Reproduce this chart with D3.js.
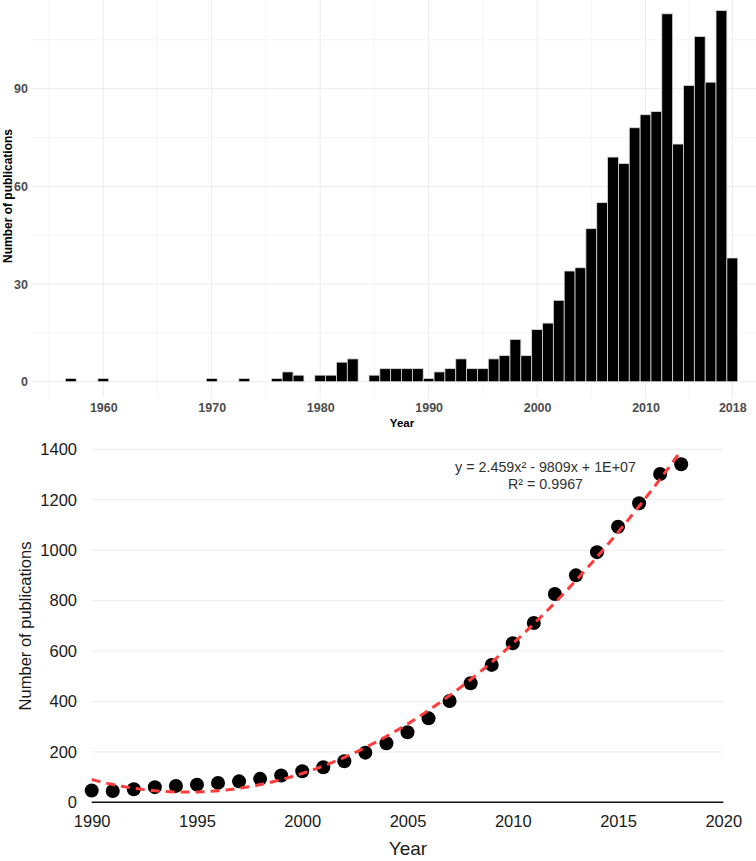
<!DOCTYPE html>
<html>
<head>
<meta charset="utf-8">
<script src="https://cdn.jsdelivr.net/npm/d3@7"></script>
<style>
  html, body { margin: 0; padding: 0; background: #fff; }
  svg { display: block; font-family: "Liberation Sans", Arial, sans-serif; }
</style>
</head>
<body>
<svg id="chart" width="756" height="861"></svg>
<script>
// ---------- Top chart data (publications per year) ----------
const topYears  = [1957,1960,1970,1973,1976,1977,1978,1980,1981,1982,1983,1985,1986,1987,1988,1989,1990,1991,1992,1993,1994,1995,1996,1997,1998,1999,2000,2001,2002,2003,2004,2005,2006,2007,2008,2009,2010,2011,2012,2013,2014,2015,2016,2017,2018];
const topCounts = [1,1,1,1,1,3,2,2,2,6,7,2,4,4,4,4,1,3,4,7,4,4,7,8,13,8,16,18,25,34,35,47,55,69,67,78,82,83,113,73,91,106,92,114,38];
const topXTicks = [1960,1970,1980,1990,2000,2010,2018];
const topXMinor = [1955,1965,1975,1985,1995,2005,2014];
const topYTicks = [0,30,60,90];
const topYMinor = [15,45,75,105];

// ---------- Bottom chart data (cumulative publications) ----------
const botYears  = [1990,1991,1992,1993,1994,1995,1996,1997,1998,1999,2000,2001,2002,2003,2004,2005,2006,2007,2008,2009,2010,2011,2012,2013,2014,2015,2016,2017,2018];
const botValues = [47,45,52,60,65,70,77,83,93,106,123,139,163,197,234,278,333,402,472,545,631,711,826,900,992,1093,1186,1302,1341];
const botXTicks = [1990,1995,2000,2005,2010,2015,2020];
const botYTicks = [0,200,400,600,800,1000,1200,1400];
const eqLines = ["y = 2.459x\u00B2 - 9809x + 1E+07", "R\u00B2 = 0.9967"];

const svg = d3.select("#chart");

// ================= TOP CHART =================
const xT = d3.scaleLinear().domain([1960, 2018]).range([103.3, 732.3]);
const yT = d3.scaleLinear().domain([0, 90]).range([381.7, 88.7]);
const tLeft = 32, tRight = 756, tTop = 0, tBottom = 398;

const gT = svg.append("g");
// minor grid
gT.selectAll(".hminor").data(topYMinor).join("line")
  .attr("x1", tLeft).attr("x2", tRight)
  .attr("y1", d => yT(d)).attr("y2", d => yT(d))
  .attr("stroke", "#f3f3f3").attr("stroke-width", 0.8);
gT.selectAll(".vminor").data(topXMinor).join("line")
  .attr("x1", d => xT(d)).attr("x2", d => xT(d))
  .attr("y1", tTop).attr("y2", tBottom)
  .attr("stroke", "#f3f3f3").attr("stroke-width", 0.8);
// major grid
gT.selectAll(".hmajor").data(topYTicks).join("line")
  .attr("x1", tLeft).attr("x2", tRight)
  .attr("y1", d => yT(d)).attr("y2", d => yT(d))
  .attr("stroke", "#ececec").attr("stroke-width", 1);
gT.selectAll(".vmajor").data(topXTicks).join("line")
  .attr("x1", d => xT(d)).attr("x2", d => xT(d))
  .attr("y1", tTop).attr("y2", tBottom)
  .attr("stroke", "#ececec").attr("stroke-width", 1);

// bars
gT.selectAll("rect.bar").data(topYears.map((y, i) => ({year: y, n: topCounts[i]})))
  .join("rect")
  .attr("class", "bar")
  .attr("x", d => xT(d.year - 0.5))
  .attr("width", d => xT(d.year + 0.5) - xT(d.year - 0.5))
  .attr("y", d => yT(d.n))
  .attr("height", d => yT(0) - yT(d.n))
  .attr("fill", "#000")
  .attr("stroke", "#d8d8d8")
  .attr("stroke-width", 0.8);

// axes (labels only)
const axTY = gT.append("g").attr("transform", `translate(${tLeft - 4},0)`)
  .call(d3.axisLeft(yT).tickValues(topYTicks).tickFormat(d3.format("d")).tickSize(0).tickPadding(0));
const axTX = gT.append("g").attr("transform", `translate(0,${403})`)
  .call(d3.axisBottom(xT).tickValues(topXTicks).tickFormat(d3.format("d")).tickSize(0).tickPadding(0));
[axTY, axTX].forEach(a => {
  a.select(".domain").remove();
  a.selectAll("text").attr("font-family", "Liberation Sans, Arial, sans-serif")
    .attr("font-size", 12.5).attr("font-weight", "bold").attr("fill", "#4d4d4d");
});

gT.append("text")
  .attr("transform", "translate(12,196) rotate(-90)")
  .attr("text-anchor", "middle")
  .attr("font-size", 12).attr("font-weight", "bold").attr("fill", "#000")
  .text("Number of publications");
gT.append("text")
  .attr("x", 402).attr("y", 426.5)
  .attr("text-anchor", "middle")
  .attr("font-size", 11.5).attr("font-weight", "bold").attr("fill", "#000")
  .text("Year");

// ================= BOTTOM CHART =================
const xB = d3.scaleLinear().domain([1990, 2020]).range([91.7, 723.3]);
const yB = d3.scaleLinear().domain([0, 1400]).range([802.3, 449.3]);
const gB = svg.append("g");

gB.selectAll(".bgrid").data(botYTicks.filter(d => d > 0)).join("line")
  .attr("x1", xB(1990)).attr("x2", xB(2020))
  .attr("y1", d => yB(d)).attr("y2", d => yB(d))
  .attr("stroke", "#ececec").attr("stroke-width", 1);

gB.append("line")
  .attr("x1", xB(1990)).attr("x2", xB(2020))
  .attr("y1", yB(0)).attr("y2", yB(0))
  .attr("stroke", "#111").attr("stroke-width", 1.4);

const axBY = gB.append("g").attr("transform", `translate(${77},0)`)
  .call(d3.axisLeft(yB).tickValues(botYTicks).tickFormat(d3.format("d")).tickSize(0).tickPadding(0));
const axBX = gB.append("g").attr("transform", `translate(0,${815})`)
  .call(d3.axisBottom(xB).tickValues(botXTicks).tickFormat(d3.format("d")).tickSize(0).tickPadding(0));
[axBY, axBX].forEach(a => {
  a.select(".domain").remove();
  a.selectAll("text").attr("font-family", "Liberation Sans, Arial, sans-serif")
    .attr("font-size", 16.5).attr("fill", "#1a1a1a");
});

gB.append("text")
  .attr("transform", "translate(31,626) rotate(-90)")
  .attr("text-anchor", "middle")
  .attr("font-size", 16.5).attr("fill", "#1a1a1a")
  .text("Number of publications");
gB.append("text")
  .attr("x", 408).attr("y", 855)
  .attr("text-anchor", "middle")
  .attr("font-size", 19).attr("fill", "#1a1a1a")
  .text("Year");

// points
gB.selectAll("circle.pt").data(botYears.map((y, i) => ({year: y, v: botValues[i]})))
  .join("circle")
  .attr("class", "pt")
  .attr("cx", d => xB(d.year)).attr("cy", d => yB(d.v))
  .attr("r", 7).attr("fill", "#000");

// quadratic least-squares trendline computed from the data
function quadFit(xs, ys) {
  const x0 = d3.mean(xs);
  let S = [[0,0,0],[0,0,0],[0,0,0]], T = [0,0,0];
  xs.forEach((x, i) => {
    const u = x - x0, p = [1, u, u*u];
    for (let r = 0; r < 3; r++) { T[r] += p[r]*ys[i]; for (let c = 0; c < 3; c++) S[r][c] += p[r]*p[c]; }
  });
  const A = S.map((row, r) => row.concat([T[r]]));
  for (let i = 0; i < 3; i++) {
    for (let k = i+1; k < 3; k++) {
      const f = A[k][i]/A[i][i];
      for (let j = i; j < 4; j++) A[k][j] -= f*A[i][j];
    }
  }
  const b = [0,0,0];
  for (let i = 2; i >= 0; i--) {
    let s = A[i][3];
    for (let j = i+1; j < 3; j++) s -= A[i][j]*b[j];
    b[i] = s/A[i][i];
  }
  return x => { const u = x - x0; return b[0] + b[1]*u + b[2]*u*u; };
}
const fit = quadFit(botYears, botValues);
const fitPts = d3.range(1990, 2018.001, 0.1).map(x => [x, fit(x)]);
gB.append("path")
  .datum(fitPts)
  .attr("d", d3.line().x(d => xB(d[0])).y(d => yB(d[1])).curve(d3.curveLinear))
  .attr("fill", "none")
  .attr("stroke", "#ff3c3c")
  .attr("stroke-width", 3)
  .attr("stroke-dasharray", "9,6");

// equation
gB.selectAll("text.eq").data(eqLines).join("text")
  .attr("class", "eq")
  .attr("x", 545.5)
  .attr("y", (d, i) => 472 + i*16.5)
  .attr("text-anchor", "middle")
  .attr("font-size", 14.3).attr("fill", "#333")
  .text(d => d);
</script>
</body>
</html>
